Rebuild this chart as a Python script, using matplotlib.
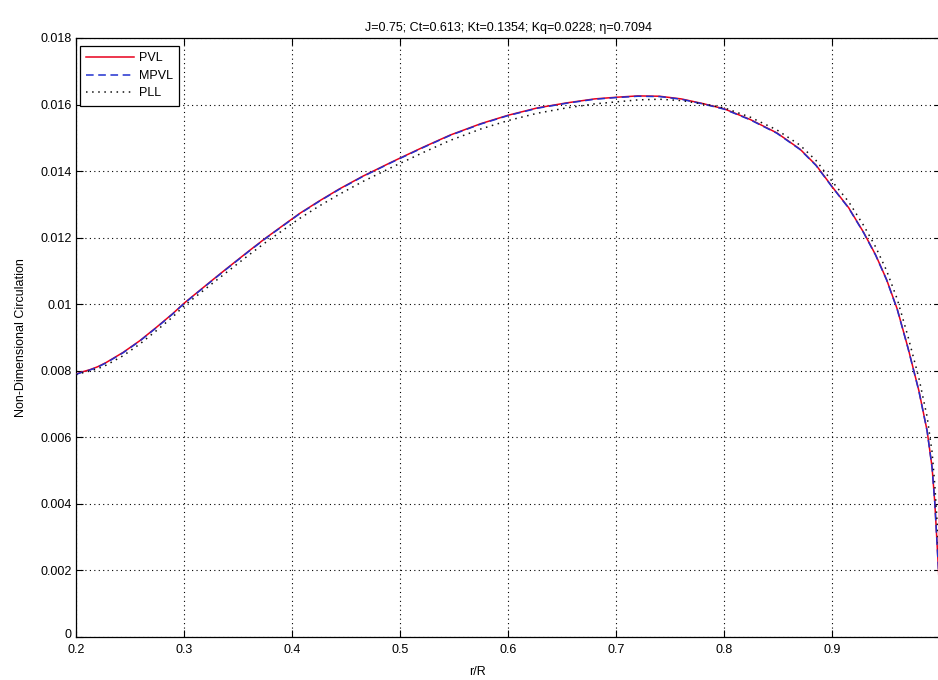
import matplotlib
matplotlib.use('Agg')
import matplotlib.pyplot as plt
import matplotlib.transforms as mtransforms

##############################################################
# data

r_R = [0.200, 0.205, 0.2126, 0.220, 0.228, 0.2435, 0.2589, 0.2742, 0.2896, 0.300,
       0.326, 0.339, 0.360, 0.376, 0.390, 0.4066, 0.425, 0.4435, 0.465, 0.4926,
       0.520, 0.546, 0.575, 0.600, 0.627, 0.654, 0.680, 0.700, 0.720, 0.740,
       0.760, 0.780, 0.800, 0.824, 0.8485, 0.870, 0.8848, 0.900, 0.915, 0.929,
       0.940, 0.950, 0.960, 0.970, 0.980, 0.9876, 0.9922, 0.9947, 0.9965, 0.999]

G_PVL = [0.00790, 0.00796, 0.00803, 0.00812, 0.00825, 0.00855, 0.00890, 0.00930, 0.00972, 0.01003,
         0.01072, 0.01106, 0.01160, 0.01200, 0.01233, 0.01272, 0.01310, 0.01346, 0.01384, 0.01428,
         0.01470, 0.01508, 0.01543, 0.01568, 0.01590, 0.01605, 0.01617, 0.01622, 0.01626, 0.01625,
         0.01617, 0.01603, 0.01587, 0.01555, 0.01515, 0.01466, 0.01418, 0.01352, 0.01290, 0.01215,
         0.01148, 0.01075, 0.00985, 0.00868, 0.00740, 0.00620, 0.00510, 0.00405, 0.00300, 0.00150]

G_MPVL = [0.00789, 0.00795, 0.00802, 0.00811, 0.00824, 0.00854, 0.00889, 0.00929, 0.00971, 0.01002,
          0.01071, 0.01105, 0.01159, 0.01199, 0.01232, 0.01271, 0.01309, 0.01345, 0.01383, 0.01427,
          0.01469, 0.01507, 0.01542, 0.01567, 0.01589, 0.01604, 0.01616, 0.01621, 0.01625, 0.01624,
          0.01616, 0.01602, 0.01586, 0.01554, 0.01514, 0.01465, 0.01417, 0.01351, 0.01289, 0.01214,
          0.01147, 0.01074, 0.00984, 0.00867, 0.00739, 0.00619, 0.00509, 0.00404, 0.00299, 0.00149]

G_PLL = [0.00788, 0.00793, 0.00799, 0.00806, 0.00817, 0.00845, 0.00880, 0.00920, 0.00962, 0.00995,
         0.01062, 0.01095, 0.01148, 0.01187, 0.01219, 0.01257, 0.01295, 0.01330, 0.01368, 0.01412,
         0.01454, 0.01492, 0.01527, 0.01552, 0.01574, 0.01590, 0.01602, 0.01608, 0.01614, 0.01616,
         0.01612, 0.01602, 0.01590, 0.01562, 0.01524, 0.01478, 0.01432, 0.01368, 0.01308, 0.01236,
         0.01172, 0.01102, 0.01015, 0.00902, 0.00778, 0.00662, 0.00556, 0.00458, 0.00365, 0.00220]

x_ticks = [0.2, 0.3, 0.4, 0.5, 0.6, 0.7, 0.8, 0.9, 1.0]
x_tick_labels = ['0.2', '0.3', '0.4', '0.5', '0.6', '0.7', '0.8', '0.9', '']
y_ticks = [0, 0.002, 0.004, 0.006, 0.008, 0.010, 0.012, 0.014, 0.016, 0.018]
y_tick_labels = ['0', '0.002', '0.004', '0.006', '0.008', '0.01', '0.012', '0.014', '0.016', '0.018']

str_title = 'J=0.75; Ct=0.613; Kt=0.1354; Kq=0.0228; \u03b7=0.7094'

##############################################################

plt.rcParams['font.family'] = ['Liberation Sans', 'DejaVu Sans']
plt.rcParams['font.size'] = 9

fig = plt.figure(figsize=(9.38, 6.80), dpi=100)
ax = fig.add_axes([76 / 938, 1 - 637 / 680, 864.5 / 938, 599 / 680])

ax.plot(r_R, G_PVL, color='#e8001c', linestyle='-', linewidth=1.1, label='PVL', zorder=3)
ax.plot(r_R, G_MPVL, color='#2030d0', linestyle=(0, (5, 3)), linewidth=1.1, label='MPVL', zorder=4)
ax.plot(r_R, G_PLL, color='#111111', linestyle=(0, (1, 3)), linewidth=1.1, label='PLL', zorder=5)

ax.set_xlim(0.2, 1.0)
ax.set_ylim(0, 0.018)
ax.set_xticks(x_ticks)
ax.set_xticklabels(x_tick_labels)
ax.set_yticks(y_ticks)
ax.set_yticklabels(y_tick_labels)

##################################
# MATLAB-looking frame and grid
ax.tick_params(direction='in', length=5, width=0.8, top=True, right=True, colors='black', pad=3)
ax.tick_params(axis='x', pad=5)
ax.grid(True, color='black', linestyle=(0, (1, 3)), linewidth=0.8, zorder=1)
for s in ax.spines.values():
    s.set_linewidth(0.9)
    s.set_color('black')

# lift the "0" label a little, it sits just above "0.2" like in the reference
lbl0 = ax.get_yticklabels()[0]
lbl0.set_transform(lbl0.get_transform() + mtransforms.ScaledTranslation(0, 4 / 100, fig.dpi_scale_trans))

ax.set_title(str_title, fontsize=9, pad=5)
ax.set_xlabel('r/R', fontsize=9, labelpad=2)
ax.xaxis.set_label_coords(0.465, -0.048)
ax.set_ylabel('Non-Dimensional Circulation', fontsize=9, labelpad=10)

leg = ax.legend(loc='upper left', bbox_to_anchor=(4 / 864.5, 1 - 8 / 599), borderaxespad=0,
                fancybox=False, framealpha=1, edgecolor='black', fontsize=9,
                handlelength=3.8, handletextpad=0.4, labelspacing=0.45, borderpad=0.5)
leg.get_frame().set_linewidth(0.9)

plt.savefig('out.png', dpi=100, facecolor='white')
